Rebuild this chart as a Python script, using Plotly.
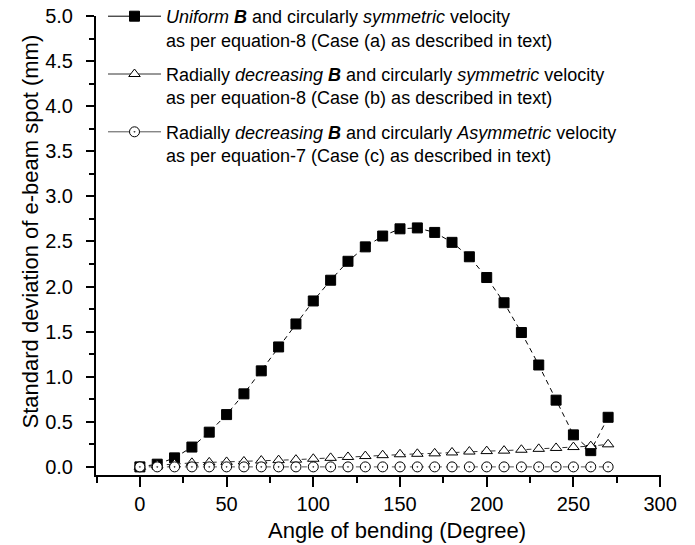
import plotly.graph_objects as go

angles = [0, 10, 20, 30, 40, 50, 60, 70, 80, 90, 100, 110, 120, 130, 140,
          150, 160, 170, 180, 190, 200, 210, 220, 230, 240, 250, 260, 270]
case_a = [0.0, 0.03, 0.10, 0.22, 0.385, 0.58, 0.81, 1.065, 1.33, 1.585, 1.84, 2.07,
          2.28, 2.44, 2.56, 2.64, 2.65, 2.60, 2.49, 2.33, 2.10, 1.82, 1.49, 1.13,
          0.74, 0.355, 0.18, 0.55]
case_b = [0.0, 0.02, 0.03, 0.045, 0.05, 0.055, 0.06, 0.07, 0.075, 0.08, 0.09, 0.10,
          0.11, 0.12, 0.13, 0.14, 0.145, 0.15, 0.16, 0.17, 0.175, 0.18, 0.19, 0.20,
          0.21, 0.22, 0.23, 0.25]
case_c = [0.0] * 28

names = [
    "<i>Uniform</i> <b><i>B</i></b> and circularly <i>symmetric</i> velocity<br>as per equation-8 (Case (a) as described in text)",
    "Radially <i>decreasing</i> <b><i>B</i></b> and circularly <i>symmetric</i> velocity<br>as per equation-8 (Case (b) as described in text)",
    "Radially <i>decreasing</i> <b><i>B</i></b> and circularly <i>Asymmetric</i> velocity<br>as per equation-7 (Case (c) as described in text)",
]
x_title = "Angle of bending (Degree)"
y_title = "Standard deviation of e-beam spot (mm)"

FONT = "Liberation Sans, Arial, sans-serif"
DASH = "5px,4px"

series = [
    (case_a, names[0], "black", dict(symbol="square", size=10, color="black", line=dict(color="black", width=1))),
    (case_b, names[1], "#333333", dict(symbol="triangle-up", size=10, color="white", line=dict(color="black", width=1))),
    (case_c, names[2], "#555555", dict(symbol="circle-dot", size=10, color="white", line=dict(color="black", width=1))),
]

fig = go.Figure()
for i, (vals, nm, col, mk) in enumerate(series):
    fig.add_trace(go.Scatter(
        x=angles, y=vals, name=nm, mode="lines+markers",
        line=dict(color=col, width=1, dash=DASH), marker=mk,
        legendgroup=f"g{i}", showlegend=False))
    # legend entry with a solid line segment, as in the reference legend
    fig.add_trace(go.Scatter(
        x=[None], y=[None], name=nm, mode="lines+markers",
        line=dict(color=col, width=1), marker=mk,
        legendgroup=f"g{i}", showlegend=True))

# page body has an 8px margin; size the figure so it fits the 695x545 window
OFF = 8
W, H = 695 - OFF, 545 - OFF
L_ref, T_ref, R_ref, B_ref = 96, 16, 661, 475   # plot area in window pixels
L, T = L_ref - OFF, T_ref - OFF
R, B = W - (R_ref - OFF), H - (B_ref - OFF)
pw, ph = W - L - R, H - T - B

fig.update_layout(
    width=W, height=H,
    margin=dict(l=L, r=R, t=T, b=B, autoexpand=False),
    paper_bgcolor="white", plot_bgcolor="white",
    font=dict(family=FONT, color="black"),
    showlegend=True,
    legend=dict(x=7 / pw, y=1 + 18 / ph, xanchor="left", yanchor="top",
                bgcolor="rgba(0,0,0,0)", font=dict(size=18, family=FONT),
                tracegroupgap=8, itemwidth=53, valign="top"),
    xaxis=dict(
        range=[-25.3, 300.5], tickmode="linear", tick0=0, dtick=50, automargin=False,
        showgrid=False, zeroline=False, showline=True, linecolor="black", linewidth=2,
        ticks="outside", ticklen=10, tickwidth=2, tickcolor="black", ticklabelstandoff=0,
        ticklabeloverflow="allow",
        minor=dict(ticks="outside", ticklen=6, tickwidth=1.5, dtick=25, tick0=0, tickcolor="black"),
        tickfont=dict(size=20, family=FONT),
    ),
    yaxis=dict(
        range=[-0.09, 5.0001], tickmode="linear", tick0=0, dtick=0.5, tickformat=".1f", automargin=False,
        showgrid=False, zeroline=False, showline=True, linecolor="black", linewidth=2,
        ticks="outside", ticklen=8, tickwidth=2, tickcolor="black", ticklabelstandoff=9,
        ticklabeloverflow="allow",
        minor=dict(ticks="outside", ticklen=5, tickwidth=1.5, dtick=0.25, tick0=0, tickcolor="black"),
        tickfont=dict(size=20, family=FONT),
    ),
    annotations=[
        dict(text=x_title, xref="paper", yref="paper", x=(397 - L_ref) / pw, y=-(530 - B_ref) / ph,
             xanchor="center", yanchor="middle", showarrow=False, font=dict(size=22, family=FONT)),
        dict(text=y_title, xref="paper", yref="paper", x=(30 - L_ref) / pw, y=1 - (231.5 - T_ref) / ph,
             xanchor="center", yanchor="middle", textangle=-90, showarrow=False,
             font=dict(size=22, family=FONT)),
    ],
)

fig.write_html("out.html")
